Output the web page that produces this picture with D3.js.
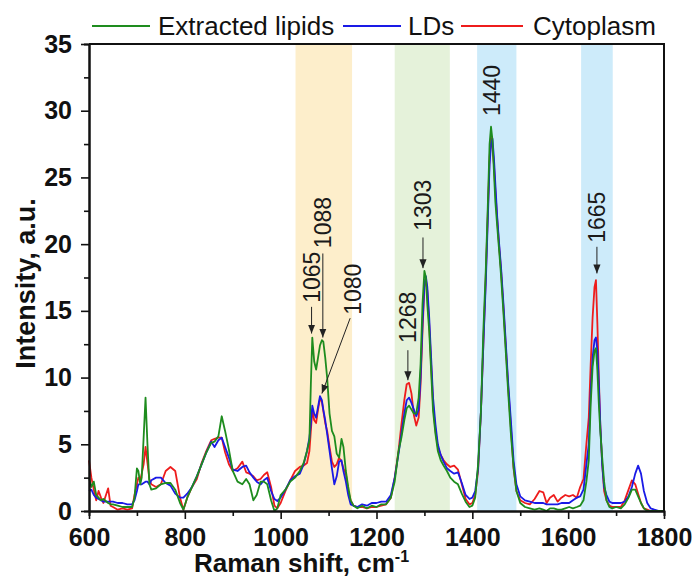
<!DOCTYPE html>
<html>
<head>
<meta charset="utf-8">
<script src="https://cdn.jsdelivr.net/npm/d3@7"></script>
<style>
  body { margin: 0; background: #fff; }
  svg { display: block; font-family: Arial, "Liberation Sans", sans-serif; }
</style>
</head>
<body>
<svg id="chart" width="697" height="578"></svg>
<script>
// -----------------------------
// Data
// -----------------------------
const shift = [
  600, 605, 610, 615, 620, 625, 630, 640, 645, 650,
  660, 670, 680, 690, 695, 700, 703, 707, 710, 714,
  718, 722, 726, 730, 740, 750, 760, 770, 780, 790,
  797, 805, 815, 825, 835, 845, 855, 862, 870, 877,
  884, 892, 900, 910, 920, 928, 935, 943, 950, 958,
  965, 972, 980, 987, 993, 1000, 1010, 1020, 1030, 1040,
  1048, 1055, 1060, 1063, 1066, 1070, 1074, 1078, 1082, 1086,
  1089, 1093, 1097, 1102, 1107, 1112, 1117, 1122, 1127, 1131,
  1136, 1141, 1146, 1152, 1160, 1170, 1180, 1190, 1200, 1210,
  1220, 1230, 1238, 1246, 1252, 1258, 1263, 1268, 1273, 1278,
  1283, 1288, 1292, 1296, 1300, 1303, 1306, 1310, 1314, 1318,
  1323, 1328, 1334, 1340, 1347, 1354, 1362, 1370, 1378, 1386,
  1394, 1400, 1406, 1412, 1418, 1423, 1428, 1432, 1436, 1439,
  1442, 1445, 1448, 1452, 1456, 1460, 1465, 1470, 1475, 1480,
  1486, 1492, 1500, 1510, 1520, 1530, 1540, 1548, 1555, 1562,
  1570, 1578, 1586, 1594, 1602, 1610, 1618, 1625, 1632, 1638,
  1643, 1647, 1651, 1655, 1658, 1661, 1664, 1667, 1671, 1675,
  1680, 1686, 1692, 1700, 1710, 1718, 1726, 1733, 1740, 1746,
  1752, 1758, 1765, 1772, 1780, 1790, 1800,
];

const extractedLipids = [
  2.5, 1.8, 2.2, 1.2, 1.0, 0.8, 0.9, 0.6, 0.5, 0.5,
  0.4, 0.3, 0.3, 0.3, 1.0, 3.2, 3.0, 2.0, 2.5, 5.5,
  8.5, 5.0, 2.0, 1.6, 1.7, 2.0, 2.1, 2.1, 1.6, 0.6,
  0.1, 1.0, 1.8, 2.6, 3.5, 4.4, 5.1, 5.2, 5.6, 7.1,
  6.0, 4.6, 3.0, 2.2, 2.0, 2.4, 2.0, 0.8, 1.2, 2.2,
  2.2, 2.0, 0.8, 0.0, 0.2, 1.2, 1.6, 2.2, 2.5, 3.0,
  3.6, 4.5, 5.3, 9.5, 13.0, 11.2, 10.6, 11.5, 12.4, 12.8,
  12.7, 11.5, 10.0, 7.3, 6.0, 5.6, 4.3, 4.0, 5.4, 4.8,
  3.0, 1.8, 0.8, 0.4, 0.2, 0.4, 0.2, 0.4, 0.3, 0.5,
  0.5, 1.0, 2.2, 4.5, 5.5, 6.8, 7.7, 7.9, 7.6, 7.3,
  7.3, 8.5, 11.0, 15.5, 18.0, 17.5, 15.5, 13.5, 10.5, 7.5,
  5.8, 4.5, 3.8, 3.4, 3.0, 2.5, 2.2, 2.0, 1.3, 0.7,
  0.3, 0.4, 1.0, 3.5, 7.5, 13.5, 18.0, 22.5, 27.5, 28.8,
  27.8, 25.5, 23.2, 21.3, 19.5, 17.6, 14.8, 11.8, 8.8, 6.0,
  3.3, 1.5, 0.6, 0.3, 0.2, 0.1, 0.2, 0.1, 0.0, 0.2,
  0.2, 0.1, 0.1, 0.2, 0.3, 0.2, 0.3, 0.4, 0.8, 2.2,
  3.8, 8.0, 10.8, 12.0, 12.2, 10.5, 8.0, 6.0, 4.0, 2.2,
  0.8, 0.3, 0.2, 0.3, 0.2, 0.5, 1.0, 1.6, 1.6, 1.1,
  0.6, 0.2, 0.0, 0.0, 0.0, 0.0, 0.0,
];

const lds = [
  1.5, 1.6, 1.2, 1.0, 0.9, 0.8, 0.7, 0.7, 0.7, 0.7,
  0.6, 0.6, 0.5, 0.5, 0.8, 1.5, 2.0, 2.0, 2.0, 2.1,
  2.2, 2.2, 2.0, 2.3, 2.5, 2.5, 2.1, 1.9, 1.3, 1.0,
  1.0, 1.3, 1.8, 2.6, 3.5, 4.4, 5.2, 4.8, 5.3, 5.5,
  4.8, 4.0, 3.1, 3.0, 3.3, 3.4, 2.9, 2.5, 2.2, 2.0,
  2.3, 2.5, 1.5, 0.9, 0.75, 1.0, 1.6, 2.3, 2.6, 2.8,
  3.5, 4.5, 5.5, 6.5, 7.9, 7.3, 7.0, 7.8, 8.6, 8.3,
  7.6, 6.8, 5.8, 4.5, 3.2, 2.0, 2.6, 3.7, 3.8, 3.0,
  2.2, 1.2, 0.5, 0.4, 0.3, 0.5, 0.4, 0.6, 0.6, 0.7,
  0.7, 1.2, 2.5, 4.3, 5.8, 7.3, 8.3, 8.5, 8.1, 7.6,
  7.1, 7.6, 10.0, 14.0, 17.0, 17.6, 16.8, 14.5, 11.5, 8.5,
  6.5, 5.0, 4.2, 3.7, 3.2, 3.0, 2.8, 2.9, 2.1, 1.2,
  0.9, 1.0, 1.5, 3.2, 7.5, 12.5, 17.0, 21.5, 26.0, 27.5,
  27.9, 26.5, 24.5, 22.0, 20.0, 18.2, 15.5, 12.5, 9.5, 7.0,
  3.8, 2.0, 1.1, 0.8, 0.7, 0.6, 0.6, 0.6, 0.5, 0.5,
  0.5, 0.5, 0.6, 0.6, 0.6, 0.8, 1.0, 1.1, 1.6, 3.5,
  5.0, 9.0, 11.5, 12.8, 13.0, 12.0, 9.5, 6.5, 3.5, 1.8,
  1.2, 0.7, 0.6, 0.6, 0.6, 0.7, 1.1, 1.8, 2.8, 3.4,
  2.8, 1.5, 0.6, 0.2, 0.1, 0.0, 0.0,
];

const cytoplasm = [
  3.8, 2.5, 1.6, 0.8, 1.5, 1.0, 0.6, 1.7, 0.4, 0.3,
  0.1, 0.2, 0.1, 0.2, 1.2, 2.0, 2.5, 2.3, 2.8, 3.5,
  4.8, 3.6, 2.4, 2.0, 1.8, 2.0, 3.0, 3.3, 3.0, 1.0,
  0.1, 1.0, 1.8, 2.4, 3.6, 4.5, 5.3, 5.4, 5.5, 5.5,
  4.4, 3.5, 3.0, 3.2, 3.7, 2.9, 2.8, 2.6, 2.3, 2.4,
  2.7, 2.9, 1.8, 0.4, 0.2, 0.6, 1.5, 2.3, 3.0, 3.3,
  3.4, 3.6, 4.5, 6.0, 7.6, 6.8, 6.6, 7.6, 8.4, 8.2,
  7.5, 6.6, 6.0, 4.8, 3.7, 3.3, 3.5, 4.0, 3.7, 3.2,
  2.8, 1.5, 0.8, 0.4, 0.3, 0.3, 0.2, 0.3, 0.3, 0.4,
  0.5, 1.0, 2.5, 4.5, 6.5, 8.3, 9.5, 9.6, 8.8, 7.2,
  6.4, 7.0, 9.5, 13.5, 16.8, 17.4, 16.5, 14.0, 11.0, 8.0,
  6.0, 4.8, 4.2, 3.8, 3.5, 3.3, 3.4, 3.1, 2.0, 0.9,
  0.5, 0.6, 1.2, 3.0, 7.5, 12.5, 17.5, 22.0, 26.5, 28.0,
  27.2, 26.0, 24.0, 21.8, 19.8, 18.0, 15.2, 12.2, 9.2, 6.5,
  3.2, 1.5, 0.8, 0.6, 0.5, 0.9, 1.5, 1.4, 0.6, 1.0,
  1.2, 0.7, 1.0, 1.2, 1.1, 1.2, 1.0, 1.8, 2.4, 5.0,
  7.0, 11.0, 14.5, 16.8, 17.3, 14.0, 10.0, 6.5, 3.5, 1.5,
  0.8, 0.4, 0.3, 0.3, 0.3, 0.8, 1.6, 2.3, 2.0, 1.3,
  0.6, 0.2, 0.1, 0.0, 0.0, 0.0, 0.0,
];

// highlighted spectral regions [from, to, colour]
const bands = [
  [1031, 1149, "#fdeecb"],
  [1238, 1353, "#e5f2da"],
  [1410, 1492, "#cdebfa"],
  [1627, 1693, "#cdebfa"],
];

// peak labels: text, x position, text bottom, arrow [x0, y0, x1, y1] (data units)
const peakLabels = [
  { text: "1065", x: 1064.5, y: 15.6, arrow: [1064.5, 15.3, 1064.5, 13.3] },
  { text: "1088", x: 1088, y: 19.7, arrow: [1088, 19.3, 1088, 13.0] },
  { text: "1080", x: 1151, y: 14.7, arrow: [1145, 14.45, 1086, 8.8] },
  { text: "1268", x: 1265.5, y: 12.6, arrow: [1265.5, 12.05, 1265.5, 9.8] },
  { text: "1303", x: 1297, y: 21.0, arrow: [1297, 20.5, 1297, 18.2] },
  { text: "1440", x: 1441, y: 29.6, arrow: null },
  { text: "1665", x: 1660, y: 20.1, arrow: [1660, 19.8, 1660, 17.8] },
];

const yTicks = [0, 5, 10, 15, 20, 25, 30, 35];
const yMinor = [2.5, 7.5, 12.5, 17.5, 22.5, 27.5, 32.5];
const xTicks = [600, 800, 1000, 1200, 1400, 1600, 1800];
const xMinor = [700, 900, 1100, 1300, 1500, 1700];

const series = [
  { name: "Cytoplasm", values: cytoplasm, color: "#ee1c1c" },
  { name: "LDs", values: lds, color: "#1a1ae6" },
  { name: "Extracted lipids", values: extractedLipids, color: "#1e8c1e" },
];

// -----------------------------
// Layout & scales
// -----------------------------
const svg = d3.select("#chart");
const W = 697, H = 578;
const margin = { top: 44, right: 33, bottom: 67, left: 89 };

const x = d3.scaleLinear().domain([600, 1800]).range([margin.left, W - margin.right]);
const y = d3.scaleLinear().domain([0, 35]).range([H - margin.bottom, margin.top]);

// -----------------------------
// Bands
// -----------------------------
svg.append("g")
  .selectAll("rect")
  .data(bands)
  .join("rect")
  .attr("x", (d) => x(d[0]))
  .attr("width", (d) => x(d[1]) - x(d[0]))
  .attr("y", y(35))
  .attr("height", y(0) - y(35))
  .attr("fill", (d) => d[2]);

// -----------------------------
// Spectra
// -----------------------------
const line = d3.line()
  .x((d, i) => x(shift[i]))
  .y((d) => y(d));

svg.append("g")
  .selectAll("path")
  .data(series)
  .join("path")
  .attr("d", (d) => line(d.values))
  .attr("fill", "none")
  .attr("stroke", (d) => d.color)
  .attr("stroke-width", 1.8)
  .attr("stroke-linejoin", "round");

// -----------------------------
// Axes
// -----------------------------
function styleAxis(g) {
  g.selectAll("path.domain").attr("stroke", "#111").attr("stroke-width", 2);
  g.selectAll(".tick line").attr("stroke", "#111").attr("stroke-width", 1.6);
  g.selectAll(".tick text")
    .attr("fill", "#111")
    .style("font-size", "25px")
    .style("font-weight", "bold");
}

svg.append("g")
  .attr("transform", `translate(0,${y(0)})`)
  .call(d3.axisBottom(x).tickValues(xMinor).tickSize(5).tickFormat(""))
  .call(styleAxis);

svg.append("g")
  .attr("transform", `translate(${x(600)},0)`)
  .call(d3.axisLeft(y).tickValues(yMinor).tickSize(5).tickFormat(""))
  .call(styleAxis);

svg.append("g")
  .attr("transform", `translate(0,${y(0)})`)
  .call(d3.axisBottom(x).tickValues(xTicks).tickSize(8).tickPadding(9)
    .tickSizeOuter(0).tickFormat(d3.format("d")))
  .call(styleAxis);

svg.append("g")
  .attr("transform", `translate(${x(600)},0)`)
  .call(d3.axisLeft(y).tickValues(yTicks).tickSize(8).tickPadding(9)
    .tickSizeOuter(0).tickFormat(d3.format("d")))
  .call(styleAxis);

// top and right frame
svg.append("path")
  .attr("d", `M${x(600)},${y(35)}H${x(1800)}V${y(0)}`)
  .attr("fill", "none")
  .attr("stroke", "#111")
  .attr("stroke-width", 2);

// axis titles
const xTitle = svg.append("text")
  .attr("x", 194)
  .attr("y", 572)
  .style("font-size", "26px")
  .style("font-weight", "bold")
  .attr("fill", "#111");
xTitle.append("tspan").text("Raman shift, cm");
xTitle.append("tspan").attr("dy", "-0.6em").style("font-size", "16px").text("-1");

svg.append("text")
  .attr("transform", `translate(35,${(y(0) + y(35)) / 2 + 6}) rotate(-90)`)
  .attr("text-anchor", "middle")
  .style("font-size", "27px")
  .style("font-weight", "bold")
  .attr("fill", "#111")
  .text("Intensity, a.u.");

// -----------------------------
// Peak labels
// -----------------------------
svg.append("defs")
  .append("marker")
  .attr("id", "arrowHead")
  .attr("viewBox", "0 0 10 10")
  .attr("refX", 10)
  .attr("refY", 5)
  .attr("markerWidth", 9)
  .attr("markerHeight", 9)
  .attr("markerUnits", "userSpaceOnUse")
  .attr("orient", "auto")
  .append("path")
  .attr("d", "M0,1 L10,5 L0,9 Z")
  .attr("fill", "#222");

const labels = svg.append("g");

labels.selectAll("line")
  .data(peakLabels.filter((d) => d.arrow))
  .join("line")
  .attr("x1", (d) => x(d.arrow[0]))
  .attr("y1", (d) => y(d.arrow[1]))
  .attr("x2", (d) => x(d.arrow[2]))
  .attr("y2", (d) => y(d.arrow[3]))
  .attr("stroke", "#222")
  .attr("stroke-width", 1)
  .attr("marker-end", "url(#arrowHead)");

labels.selectAll("text")
  .data(peakLabels)
  .join("text")
  .attr("transform", (d) => `translate(${x(d.x)},${y(d.y)}) rotate(-90)`)
  .attr("dominant-baseline", "central")
  .style("font-size", "23px")
  .attr("fill", "#1a1a1a")
  .text((d) => d.text);

// -----------------------------
// Legend
// -----------------------------
const legendItems = [
  { name: "Extracted lipids", color: "#1e8c1e", x0: 92, x1: 150, tx: 158 },
  { name: "LDs", color: "#1a1ae6", x0: 343, x1: 401, tx: 408 },
  { name: "Cytoplasm", color: "#ee1c1c", x0: 461, x1: 523, tx: 533 },
];

const legend = svg.append("g");
legend.selectAll("line")
  .data(legendItems)
  .join("line")
  .attr("x1", (d) => d.x0)
  .attr("x2", (d) => d.x1)
  .attr("y1", 26)
  .attr("y2", 26)
  .attr("stroke", (d) => d.color)
  .attr("stroke-width", 2);

legend.selectAll("text")
  .data(legendItems)
  .join("text")
  .attr("x", (d) => d.tx)
  .attr("y", 35)
  .style("font-size", "26px")
  .attr("fill", "#111")
  .text((d) => d.name);
</script>
</body>
</html>
